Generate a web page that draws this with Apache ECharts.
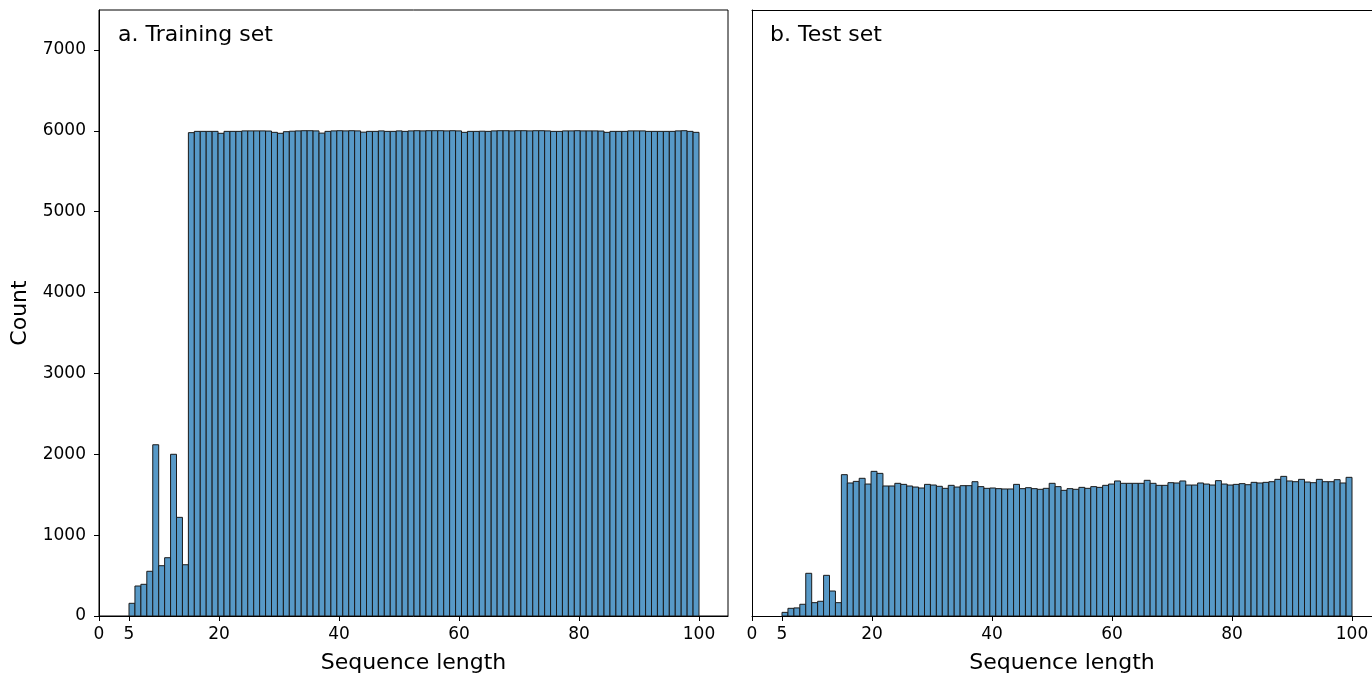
<!DOCTYPE html>
<html>
<head>
<meta charset="utf-8">
<script src="https://cdn.jsdelivr.net/npm/echarts@6/dist/echarts.min.js"></script>
<style>
html,body{margin:0;padding:0;background:#fff;}
#c{width:1372px;height:674px;}
</style>
</head>
<body>
<div id="c"></div>
<script>
// ---- data ----
const minLength = 5;
const maxLength = 100;
const panelTitles = ['a. Training set', 'b. Test set'];
const xTickValues = [0, 5, 20, 40, 60, 80, 100];
const yTickValues = [0, 1000, 2000, 3000, 4000, 5000, 6000, 7000];
const xAxisName = 'Sequence length';
const yAxisName = 'Count';

// counts for sequence lengths 5..100
const trainCounts = [
  157, 371, 392, 553, 2118, 622, 721, 2000, 1220, 634,             // 5-14
  5978, 5994, 5994, 5994, 5994, 5970, 5994, 5994, 5994, 6000,       // 15-24
  6000, 6000, 6000, 5998, 5982, 5970, 5990, 5996, 6000, 6002,       // 25-34
  6002, 6000, 5972, 5994, 6000, 6002, 6000, 6002, 6000, 5984,       // 35-44
  5994, 5994, 6000, 5994, 5994, 6000, 5994, 6000, 6002, 6000,       // 45-54
  6002, 6002, 6002, 6000, 6002, 6000, 5982, 5994, 5994, 5996,       // 55-64
  5994, 6000, 6002, 6002, 6000, 6002, 6002, 6000, 6002, 6002,       // 65-74
  6000, 5994, 5994, 6000, 6000, 6002, 6000, 6000, 6000, 5998,       // 75-84
  5982, 5994, 5994, 5994, 6000, 6000, 6000, 5994, 5994, 5994,       // 85-94
  5994, 5994, 6000, 6002, 5994, 5982                                // 95-100
];
const testCounts = [
  45, 95, 100, 145, 528, 165, 182, 503, 309, 165,                   // 5-14
  1748, 1645, 1665, 1703, 1632, 1789, 1764, 1608, 1608, 1641,       // 15-24
  1628, 1608, 1595, 1583, 1628, 1620, 1604, 1579, 1616, 1595,       // 25-34
  1612, 1612, 1661, 1600, 1579, 1583, 1575, 1571, 1571, 1628,       // 35-44
  1575, 1587, 1575, 1567, 1579, 1641, 1600, 1554, 1575, 1567,       // 45-54
  1591, 1579, 1600, 1591, 1616, 1632, 1670, 1641, 1641, 1641,       // 55-64
  1641, 1678, 1641, 1616, 1616, 1649, 1645, 1670, 1620, 1620,       // 65-74
  1645, 1632, 1620, 1674, 1632, 1620, 1628, 1637, 1624, 1653,       // 75-84
  1645, 1653, 1661, 1690, 1727, 1670, 1661, 1690, 1657, 1649,       // 85-94
  1690, 1661, 1661, 1686, 1645, 1715                                // 95-100
];

// ---- build histogram bins (one bin per integer length, spanning [min,max]) ----
function buildBins(counts) {
  const n = counts.length;
  const w = (maxLength - minLength) / n;
  return counts.map((c, i) => [minLength + i * w, minLength + (i + 1) * w, c]);
}

const FONT = 'DejaVu Sans';
const BAR_FILL = '#5799c7';
const BAR_EDGE = '#1a1a1a';

function renderBar(params, api) {
  const p0 = api.coord([api.value(0), api.value(2)]);
  const p1 = api.coord([api.value(1), 0]);
  return {
    type: 'rect',
    shape: { x: p0[0], y: p0[1], width: p1[0] - p0[0], height: p1[1] - p0[1] },
    style: { fill: BAR_FILL, stroke: BAR_EDGE, lineWidth: 1 }
  };
}

function makeX(gridIndex, xMax) {
  return {
    type: 'value', gridIndex: gridIndex, min: 0, max: xMax,
    name: xAxisName, nameLocation: 'middle', nameGap: 36,
    nameTextStyle: { fontFamily: FONT, fontSize: 22, color: '#000' },
    axisLine: { show: true, onZero: false, lineStyle: { color: '#000', width: 1 } },
    axisTick: { show: true, length: 5, lineStyle: { color: '#000' }, customValues: xTickValues },
    axisLabel: { fontFamily: FONT, fontSize: 17, color: '#000', margin: 10, customValues: xTickValues },
    splitLine: { show: false }
  };
}

function makeY(gridIndex, showLabels) {
  return {
    type: 'value', gridIndex: gridIndex, min: 0, max: 7495,
    name: showLabels ? yAxisName : '', nameLocation: 'middle', nameGap: 68,
    nameTextStyle: { fontFamily: FONT, fontSize: 22, color: '#000' },
    axisLine: { show: true, onZero: false, lineStyle: { color: '#000', width: 1 } },
    axisTick: { show: showLabels, length: 5, lineStyle: { color: '#000' }, customValues: yTickValues },
    axisLabel: { show: showLabels, fontFamily: FONT, fontSize: 17, color: '#000', margin: 13,
      customValues: yTickValues, formatter: v => String(v) },
    splitLine: { show: false }
  };
}

// top spine for the (cut-off) right panel
const topSpine = {
  type: 'value', gridIndex: 1, position: 'top', min: 0, max: 620 / 6,
  axisLine: { show: true, onZero: false, lineStyle: { color: '#000', width: 1 } },
  axisTick: { show: false }, axisLabel: { show: false }, splitLine: { show: false }
};

const chart = echarts.init(document.getElementById('c'), null, { renderer: 'canvas' });
chart.setOption({
  animation: false,
  backgroundColor: '#fff',
  grid: [
    { left: 99, top: 10, width: 629, height: 606, outerBoundsMode: 'none', containLabel: false,
      show: true, borderColor: '#000', borderWidth: 1, backgroundColor: 'transparent' },
    { left: 752, top: 10, width: 620, height: 606, outerBoundsMode: 'none', containLabel: false, show: false }
  ],
  xAxis: [makeX(0, 629 / 6), makeX(1, 620 / 6), topSpine],
  yAxis: [makeY(0, true), makeY(1, false)],
  graphic: [
    { type: 'text', left: 118, top: 24, style: { text: panelTitles[0], font: '22px "DejaVu Sans"', fill: '#000' } },
    { type: 'text', left: 770, top: 24, style: { text: panelTitles[1], font: '22px "DejaVu Sans"', fill: '#000' } }
  ],
  series: [
    { type: 'custom', xAxisIndex: 0, yAxisIndex: 0, clip: true, renderItem: renderBar,
      encode: { x: [0, 1], y: 2 }, data: buildBins(trainCounts) },
    { type: 'custom', xAxisIndex: 1, yAxisIndex: 1, clip: true, renderItem: renderBar,
      encode: { x: [0, 1], y: 2 }, data: buildBins(testCounts) }
  ]
});
</script>
</body>
</html>
